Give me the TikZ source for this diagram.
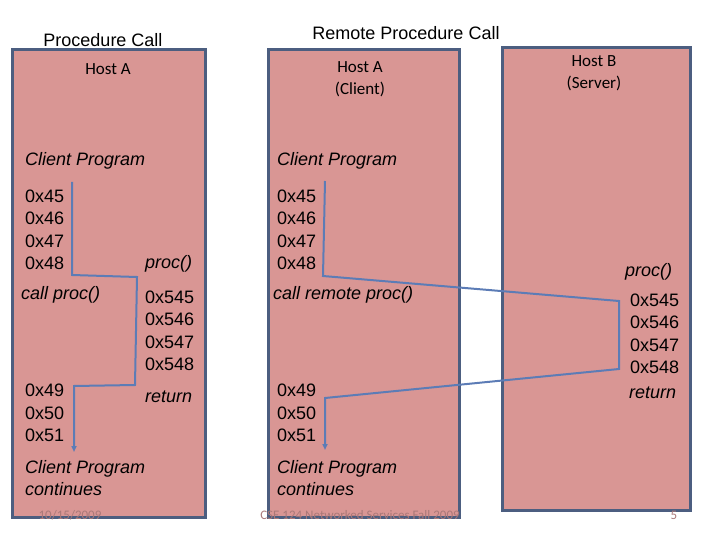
\documentclass[tikz,border=0pt]{standalone}
\usepackage{fontspec}
\setmainfont{Liberation Sans}
\newfontfamily\carlfont{Carlito}
\usetikzlibrary{arrows.meta}
\definecolor{boxfill}{RGB}{217,150,148}
\definecolor{boxedge}{RGB}{76,94,128}
\definecolor{flow}{RGB}{92,124,182}
\definecolor{foot}{RGB}{170,120,120}
\begin{document}
\begin{tikzpicture}[x=1pt,y=-1pt,
  host/.style={draw=boxedge,line width=3pt,fill=boxfill},
  t/.style={anchor=west,inner sep=0pt,font=\fontsize{18}{22.5}\selectfont,align=left},
  it/.style={t,font=\fontsize{18}{22.5}\selectfont\itshape},
  hd/.style={inner sep=0pt,font=\carlfont\fontsize{17}{22}\selectfont,align=center},
  ttl/.style={inner sep=0pt,font=\fontsize{18}{22}\selectfont},
  ln/.style={draw=flow,line width=2pt},
  ar/.style={ln,-{Triangle[length=6pt,width=5pt]}},
  ft/.style={inner sep=0pt,font=\carlfont\fontsize{13}{15}\selectfont,text=foot}]
\useasboundingbox (0,0) rectangle (720,540);
\path[host] (12,50) rectangle (205,517);
\path[host] (268,50) rectangle (459,517);
\path[host] (502,48) rectangle (690,510);
\node[ttl] (t1) at (103,40) {Procedure Call};
\node[ttl] (t2) at (406,33) {Remote Procedure Call};
\node[hd] (ha) at (108,69) {Host A};
\node[hd] (hac) at (360,79) {Host A\\(Client)};
\node[hd] (hb) at (594,73) {Host B\\(Server)};
\node[it] (cp1) at (25,161) {Client Program};
\node[it] (cp2) at (277,161) {Client Program};
\node[t] (a1) at (25,230) {0x45\\0x46\\0x47\\0x48};
\node[t] (a2) at (277,230) {0x45\\0x46\\0x47\\0x48};
\node[it] (p1) at (145,264) {proc()};
\node[it] (p2) at (625,272) {proc()};
\node[it] (c1) at (21,295) {call proc()};
\node[it] (c2) at (273,295) {call remote proc()};
\node[t] (b1) at (145,331) {0x545\\0x546\\0x547\\0x548};
\node[t] (b2) at (630,334) {0x545\\0x546\\0x547\\0x548};
\node[it] (r1) at (145,397) {return};
\node[it] (r2) at (629,393) {return};
\node[t] (e1) at (25,413) {0x49\\0x50\\0x51};
\node[t] (e2) at (277,413) {0x49\\0x50\\0x51};
\node[it] (cc1) at (25,478) {Client Program\\continues};
\node[it] (cc2) at (277,478) {Client Program\\continues};
\node[ft] (f1) at (70,515) {10/15/2009};
\node[ft] (f2) at (360,515) {CSE 124 Networked Services Fall 2009};
\node[ft] (f3) at (674,515) {5};
\coordinate (s1) at (72,182);
\coordinate (d1) at (74,452);
\draw[ar] (s1) -- (72,275) -- (137,277) -- (135,385) -- (74,386) -- (d1);
\coordinate (s2) at (325,181);
\coordinate (d2) at (325,450);
\draw[ar] (s2) -- (323,276) -- (619,301) -- (619,369) -- (325,398) -- (d2);
\end{tikzpicture}
\end{document}
